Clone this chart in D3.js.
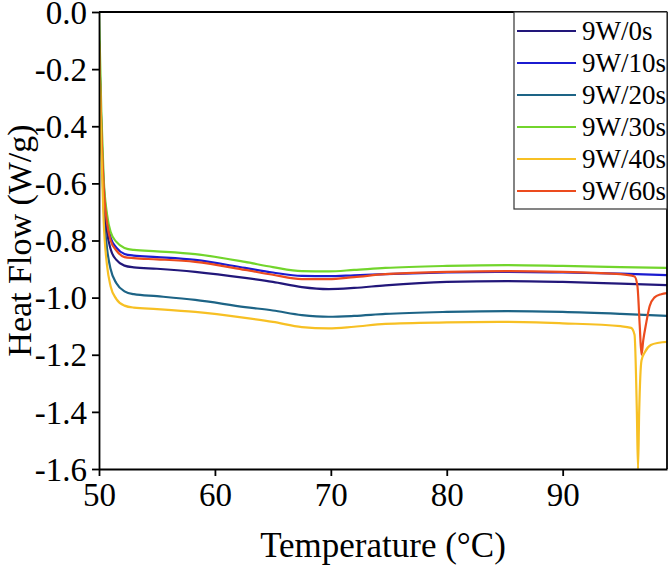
<!DOCTYPE html>
<html><head><meta charset="utf-8">
<script src="https://cdn.jsdelivr.net/npm/d3@7"></script>
<style>
body{margin:0;background:#fff;}
svg{display:block;}
svg text{font-family:"Liberation Serif","Times New Roman",serif !important;fill:#000;}
</style></head>
<body><svg id="chart" width="669" height="567"></svg>
<script>
const seriesNames = ["9W/0s","9W/10s","9W/20s","9W/30s","9W/40s","9W/60s"];
const seriesColors = ["#22177a","#1b1bd0","#1d6486","#72d52c","#f7c024","#ec4b1e"];
const xTicks = [50,60,70,80,90];
const yTicks = [0,-0.2,-0.4,-0.6,-0.8,-1.0,-1.2,-1.4,-1.6];
const yTickLabels = ["0.0","-0.2","-0.4","-0.6","-0.8","-1.0","-1.2","-1.4","-1.6"];

const tBase = [50,50.2,50.4,50.7,51.0,51.5,52.2,53,55,58.3,62.6,65,67.5,69.8,72,74.7,80,85.2,90,95,99];
const s0s  = [-0.10,-0.42,-0.63,-0.77,-0.83,-0.868,-0.888,-0.894,-0.899,-0.910,-0.931,-0.945,-0.963,-0.970,-0.966,-0.957,-0.945,-0.942,-0.945,-0.951,-0.956];
const s10s = [-0.10,-0.40,-0.60,-0.73,-0.79,-0.825,-0.847,-0.853,-0.858,-0.868,-0.896,-0.912,-0.924,-0.925,-0.922,-0.918,-0.912,-0.910,-0.912,-0.916,-0.921];
const s20s = [-0.10,-0.45,-0.68,-0.83,-0.90,-0.950,-0.978,-0.988,-0.995,-1.008,-1.033,-1.045,-1.061,-1.067,-1.064,-1.057,-1.050,-1.047,-1.050,-1.057,-1.064];
const s30s = [0.0,-0.35,-0.58,-0.71,-0.77,-0.805,-0.826,-0.833,-0.838,-0.848,-0.875,-0.893,-0.907,-0.908,-0.903,-0.896,-0.889,-0.886,-0.889,-0.893,-0.896];
const t40s = [50,50.2,50.4,50.7,51.0,51.5,52.2,53,55,58.3,62.6,65,67.5,69.8,72,74.7,80,85.2,90,95,95.9,96.2,96.4,96.5,96.6,96.8,97.1,97.6,98.3,99];
const s40s = [-0.10,-0.48,-0.73,-0.89,-0.96,-1.005,-1.028,-1.035,-1.040,-1.050,-1.071,-1.085,-1.103,-1.108,-1.102,-1.092,-1.087,-1.085,-1.090,-1.100,-1.106,-1.13,-1.40,-1.60,-1.40,-1.22,-1.19,-1.166,-1.158,-1.155];
const t60s = [50,50.2,50.4,50.7,51.0,51.5,52.2,53,55,58.3,62.6,65,67.5,69.8,72,74.7,80,85.2,90,95,96.2,96.45,96.65,96.8,96.95,97.2,97.5,97.9,98.5,99];
const s60s = [-0.11,-0.41,-0.61,-0.74,-0.80,-0.835,-0.858,-0.862,-0.866,-0.875,-0.903,-0.920,-0.935,-0.935,-0.928,-0.918,-0.910,-0.907,-0.910,-0.918,-0.926,-0.96,-1.10,-1.20,-1.15,-1.09,-1.03,-1.00,-0.988,-0.984];

const seriesT = [tBase,tBase,tBase,tBase,t40s,t60s];
const seriesV = [s0s,s10s,s20s,s30s,s40s,s60s];

const svg = d3.select("#chart");
const L=99,R=667,T=12,B=469;
const x = d3.scaleLinear().domain([50,99]).range([L,R]);
const y = d3.scaleLinear().domain([-1.6,0]).range([B,T]);

svg.append("defs").append("clipPath").attr("id","clip")
  .append("rect").attr("x",L).attr("y",T).attr("width",R-L).attr("height",B-T);

const line = d3.line().x(d=>x(d[0])).y(d=>y(d[1])).curve(d3.curveMonotoneX);
const g = svg.append("g").attr("clip-path","url(#clip)");
const order = [2,0,1,3,5,4];
order.forEach(i=>{
  const pts = seriesT[i].map((t,k)=>[t,seriesV[i][k]]);
  g.append("path").attr("d",line(pts)).attr("fill","none")
   .attr("stroke",seriesColors[i]).attr("stroke-width",2.2).attr("stroke-linejoin","round");
});

const xa = svg.append("g").attr("transform",`translate(0,${B})`)
  .call(d3.axisBottom(x).tickValues(xTicks).tickSize(7).tickSizeOuter(0).tickPadding(7));
const ya = svg.append("g").attr("transform",`translate(${L},0)`)
  .call(d3.axisLeft(y).tickValues(yTicks).tickSize(7).tickSizeOuter(0).tickPadding(5)
  .tickFormat((d,i)=>yTickLabels[i]));
[xa,ya].forEach(a=>{
  a.attr("font-family","'Liberation Serif', serif").attr("font-size",33);
  a.selectAll("path,line").attr("stroke","#000").attr("stroke-width",1.8);
  a.selectAll("text").attr("fill","#000")
   .style("font-family","'Liberation Serif', 'Times New Roman', serif").style("font-size","33px");
});
ya.selectAll("text").attr("dy","0.34em");
svg.append("line").attr("x1",L).attr("x2",R).attr("y1",T).attr("y2",T).attr("stroke","#000").attr("stroke-width",1.8);
svg.append("line").attr("x1",R).attr("x2",R).attr("y1",T).attr("y2",B).attr("stroke","#000").attr("stroke-width",1.8);

svg.append("text").attr("x",(L+R)/2).attr("y",557).attr("text-anchor","middle")
  .attr("font-size",35).text("Temperature (°C)");
svg.append("text").attr("transform",`translate(31,${(T+B)/2}) rotate(-90)`).attr("text-anchor","middle")
  .attr("font-size",34).text("Heat Flow (W/g)");

const lg = svg.append("g");
lg.append("rect").attr("x",514).attr("y",T).attr("width",R-514).attr("height",209-T)
  .attr("fill","#fff").attr("stroke","#333").attr("stroke-width",1.2);
seriesNames.forEach((n,i)=>{
  const yy = 31 + i*32;
  lg.append("line").attr("x1",517).attr("x2",576).attr("y1",yy).attr("y2",yy)
    .attr("stroke",seriesColors[i]).attr("stroke-width",2.2);
  lg.append("text").attr("x",582).attr("y",yy).attr("dy","0.34em")
    .attr("font-size",27).text(n);
});
</script></body></html>
